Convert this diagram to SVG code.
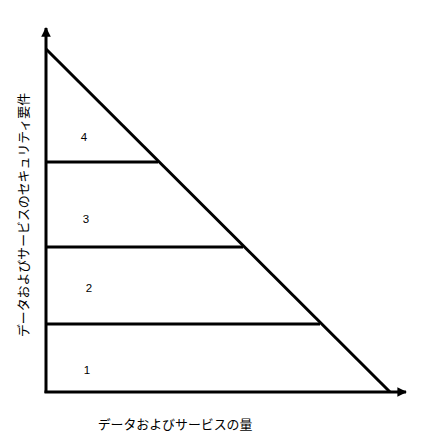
<svg xmlns="http://www.w3.org/2000/svg" width="426" height="447" viewBox="0 0 426 447">
<style>
.ln{stroke:#000;stroke-width:3;fill:none}
.t{font-family:"Liberation Sans","Noto Sans CJK JP",sans-serif;font-size:12.9px;fill:#000}
.n{font-family:"Liberation Sans",sans-serif;font-size:11.5px;fill:#000;text-anchor:middle}
</style>
<defs>
<marker id="ah" viewBox="0 0 10 10" refX="9" refY="5" markerWidth="3.2" markerHeight="3.2" orient="auto" markerUnits="strokeWidth">
<path d="M0,0 L10,5 L0,10 Z" fill="#000"/>
</marker>
</defs>
<g id="connectors">
<line class="ln" x1="46" y1="393" x2="46" y2="28" marker-end="url(#ah)"/>
<line class="ln" x1="44.5" y1="392" x2="406" y2="392" marker-end="url(#ah)"/>
</g>
<g id="triangle">
<line class="ln" x1="46" y1="49" x2="390" y2="392"/>
</g>
<g id="level4"><text class="n" x="84" y="141">4</text></g>
<g id="level3"><line class="ln" x1="46" y1="162" x2="158" y2="162"/><text class="n" x="86" y="223">3</text></g>
<g id="level2"><line class="ln" x1="46" y1="247" x2="243" y2="247"/><text class="n" x="89" y="292">2</text></g>
<g id="level1"><line class="ln" x1="46" y1="324" x2="320" y2="324"/><text class="n" x="87" y="374">1</text></g>
<g id="ylabel"><text class="t" text-anchor="middle" transform="translate(28,215) rotate(-90)">データおよびサービスのセキュリティ要件</text></g>
<g id="xlabel"><text class="t" text-anchor="middle" x="175" y="429">データおよびサービスの量</text></g>
</svg>
